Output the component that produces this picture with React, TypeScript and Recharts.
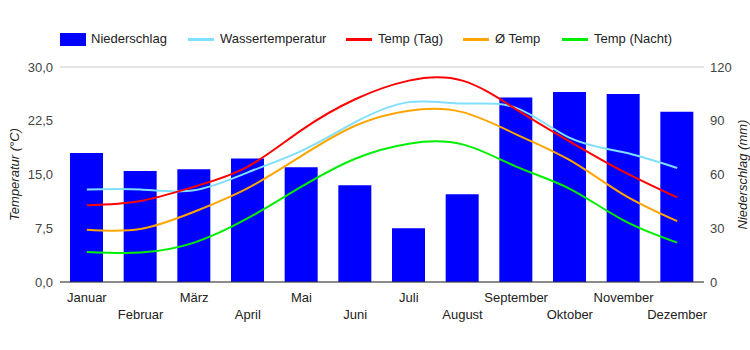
import { ComposedChart, Bar, Line, XAxis, YAxis, CartesianGrid, ReferenceLine } from 'recharts';

const months = ['Januar', 'Februar', 'März', 'April', 'Mai', 'Juni', 'Juli', 'August', 'September', 'Oktober', 'November', 'Dezember'];
const niederschlag = [72, 62, 63, 69, 64, 54, 30, 49, 103, 106, 105, 95];
const wassertemp = [12.9, 12.9, 12.8, 15.3, 18.3, 22.3, 25.1, 24.9, 24.3, 20.1, 18.1, 15.9];
const tempTag = [10.7, 11.3, 13.3, 16.1, 21.2, 25.5, 28.1, 28.1, 24.1, 19.6, 15.4, 11.8];
const tempAvg = [7.3, 7.4, 9.8, 13.1, 17.6, 21.8, 23.9, 23.7, 20.6, 17.0, 12.2, 8.5];
const tempNacht = [4.2, 4.1, 5.5, 8.9, 13.3, 17.2, 19.3, 19.2, 16.1, 13.0, 8.6, 5.5];
const leftTicks = [0, 7.5, 15, 22.5, 30];
const rightTicks = [0, 30, 60, 90, 120];

const data = months.map((m, i) => ({
  month: m,
  rain: niederschlag[i],
  water: wassertemp[i],
  day: tempTag[i],
  avg: tempAvg[i],
  night: tempNacht[i],
}));

const FONT = 'Arial, "Liberation Sans", sans-serif';

function MonthTick(props: any) {
  const { x, y, payload, index } = props;
  const row = index % 2;
  return (
    <text x={x} y={y + 12 + row * 17} textAnchor="middle" fill="#222" fontSize={13} fontFamily={FONT}>
      {payload.value}
    </text>
  );
}

function AxisTitle(props: any) {
  const { viewBox, value, px } = props;
  const cy = viewBox ? viewBox.y + viewBox.height / 2 : 175;
  return (
    <text
      x={px}
      y={cy}
      transform={`rotate(-90, ${px}, ${cy})`}
      textAnchor="middle"
      dominantBaseline="central"
      fontSize={13}
      fontStyle="italic"
      fill="#222"
      fontFamily={FONT}
    >
      {value}
    </text>
  );
}

const legendItems = [
  { label: 'Wassertemperatur', color: '#80dfff', lx: 188, tx: 220 },
  { label: 'Temp (Tag)', color: '#ff0000', lx: 346, tx: 378 },
  { label: 'Ø Temp', color: '#ffa500', lx: 463, tx: 495 },
  { label: 'Temp (Nacht)', color: '#00ee00', lx: 562, tx: 594 },
];

export default function App() {
  return (
    <div style={{ position: 'absolute', left: 0, top: 0, width: 750, height: 350, fontFamily: FONT, background: '#fff' }}>
      <div style={{ position: 'absolute', left: 60, top: 33, width: 26, height: 13, background: '#0000ff' }} />
      <div style={{ position: 'absolute', left: 91, top: 31, fontSize: 13, color: '#222', lineHeight: '16px' }}>Niederschlag</div>
      {legendItems.map((it) => (
        <div key={it.label}>
          <div style={{ position: 'absolute', left: it.lx, top: 38, width: 26, height: 3, background: it.color }} />
          <div style={{ position: 'absolute', left: it.tx, top: 31, fontSize: 13, color: '#222', lineHeight: '16px' }}>{it.label}</div>
        </div>
      ))}
      <ComposedChart width={750} height={350} data={data} margin={{ top: 67, right: 0, left: 0, bottom: 28 }}>
        <CartesianGrid vertical={false} stroke="#cccccc" />
        <XAxis
          dataKey="month"
          height={40}
          tickLine={false}
          axisLine={false}
          interval={0}
          tick={<MonthTick />}
        />
        <YAxis
          yAxisId="t"
          orientation="left"
          width={60}
          domain={[0, 30]}
          ticks={leftTicks}
          interval={0}
          tickLine={false}
          axisLine={false}
          tickMargin={1}
          tickFormatter={(v: number) => v.toFixed(1).replace('.', ',')}
          tick={{ fill: '#444', fontSize: 13, fontFamily: FONT }}
          label={<AxisTitle value="Temperatur (°C)" px={14} />}
        />
        <YAxis
          yAxisId="r"
          orientation="right"
          width={46}
          domain={[0, 120]}
          ticks={rightTicks}
          interval={0}
          tickLine={false}
          axisLine={false}
          tickMargin={0}
          tick={{ fill: '#444', fontSize: 13, fontFamily: FONT, textAnchor: 'start' }}
          label={<AxisTitle value="Niederschlag (mm)" px={742} />}
        />
        <Bar yAxisId="r" dataKey="rain" fill="#0000ff" barSize={33} isAnimationActive={false} />
        <ReferenceLine yAxisId="t" y={0} stroke="#333" strokeWidth={1} />
        <Line yAxisId="t" type="natural" dataKey="water" stroke="#80dfff" strokeWidth={2} dot={false} isAnimationActive={false} />
        <Line yAxisId="t" type="natural" dataKey="day" stroke="#ff0000" strokeWidth={2} dot={false} isAnimationActive={false} />
        <Line yAxisId="t" type="natural" dataKey="avg" stroke="#ffa500" strokeWidth={2} dot={false} isAnimationActive={false} />
        <Line yAxisId="t" type="natural" dataKey="night" stroke="#00ee00" strokeWidth={2} dot={false} isAnimationActive={false} />
      </ComposedChart>
    </div>
  );
}
